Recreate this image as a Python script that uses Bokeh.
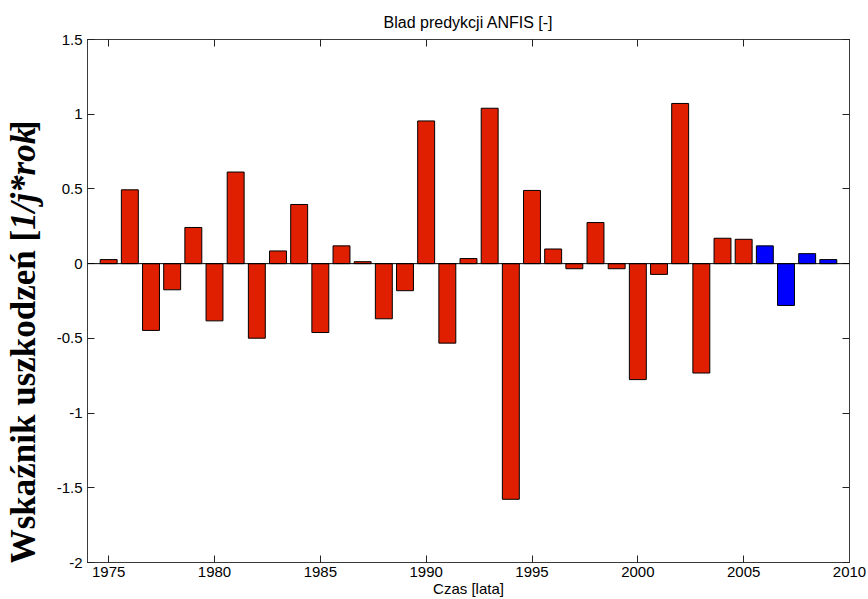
import math
from bokeh.plotting import figure
from bokeh.layouts import row
from bokeh.models import Range1d, FixedTicker, Span, ColumnDataSource, LinearAxis
from bokeh.core.properties import value
from bokeh.embed import file_html
from bokeh.resources import INLINE

years = list(range(1975, 2010))
values = [0.027, 0.494, -0.447, -0.175, 0.242, -0.383, 0.613, -0.499, 0.085, 0.396,
          -0.461, 0.119, 0.013, -0.369, -0.181, 0.955, -0.532, 0.034, 1.040, -1.577,
          0.490, 0.098, -0.034, 0.275, -0.034, -0.776, -0.072, 1.072, -0.732, 0.170,
          0.163, 0.119, -0.280, 0.067, 0.027]
forecast_start = 2006
x_ticks = [1975, 1980, 1985, 1990, 1995, 2000, 2005, 2010]
y_ticks = [-2, -1.5, -1, -0.5, 0, 0.5, 1, 1.5]
y_tick_labels = ["-2", "-1.5", "-1", "-0.5", "0", "0.5", "1", "1.5"]

title_text = "Blad predykcji ANFIS [-]"
x_label = "Czas [lata]"
y_label_parts = ["Wskaźnik uszkodzeń [", "1/j*rok", "]"]
y_label_styles = ["bold", "bold italic", "bold"]

X0, X1 = 1974, 2010
Y0, Y1 = -2, 1.5

RED = "#E01E00"
BLUE = "#0000FF"
AX = "#3a3a3a"
TICK = "#222222"
SANS = "Liberation Sans"
colors = [BLUE if y >= forecast_start else RED for y in years]
src = ColumnDataSource(dict(year=years, value=values, color=colors))

H = 599
LEFT_W = 50

# ---- left strip carrying the rotated y-axis label -----------------------
pl = figure(width=LEFT_W, height=H, x_range=Range1d(0, LEFT_W), y_range=Range1d(0, H),
            x_axis_type=None, y_axis_type=None, min_border=0,
            output_backend="svg", toolbar_location=None)
pl.grid.visible = False
pl.outline_line_color = None
pl.background_fill_color = "white"
pl.border_fill_color = "white"
yl_x = 23
yl_split = H - 218
yl_end = H - 106
ysrc = ColumnDataSource(dict(
    x=[yl_x] * 3,
    y=[yl_split, yl_split, yl_end],
    text=y_label_parts,
    style=y_label_styles,
    align=["right", "left", "left"],
))
pl.text(x="x", y="y", text="text", source=ysrc, angle=math.pi / 2,
        text_align="align", text_baseline="middle", text_font=value("Liberation Serif"),
        text_font_size="35px", text_font_style="style", text_color="black")

# ---- main chart ----------------------------------------------------------
p = figure(width=868 - LEFT_W, height=H, x_range=Range1d(X0, X1), y_range=Range1d(Y0, Y1),
           output_backend="svg", toolbar_location=None,
           min_border_left=87 - LEFT_W, min_border_right=19, min_border_top=39,
           min_border_bottom=37)
p.background_fill_color = "white"
p.border_fill_color = "white"
p.grid.visible = False
p.outline_line_color = AX
p.outline_line_width = 1

p.vbar(x="year", top="value", bottom=0, width=0.8, fill_color="color",
       line_color="black", line_width=1, source=src)
p.add_layout(Span(location=0, dimension="width", line_color="black", line_width=1))

def style_axis(ax, ticks):
    ax.ticker = FixedTicker(ticks=ticks)
    ax.minor_tick_line_color = None
    ax.major_tick_in = 7
    ax.major_tick_out = 0
    ax.axis_line_color = AX
    ax.major_tick_line_color = TICK
    ax.major_label_text_font = SANS
    ax.major_label_text_font_size = "15px"
    ax.major_label_text_color = "black"
    ax.axis_label_text_font = SANS
    ax.axis_label_text_font_style = "normal"
    ax.axis_label_text_color = "black"

style_axis(p.xaxis[0], x_ticks)
p.xaxis[0].major_label_standoff = 4
p.xaxis[0].axis_label = x_label
p.xaxis[0].axis_label_text_font_size = "15px"
p.xaxis[0].axis_label_standoff = 0

style_axis(p.yaxis[0], y_ticks)
p.yaxis[0].major_label_standoff = 5
p.yaxis[0].major_label_overrides = {t: s for t, s in zip(y_ticks, y_tick_labels)}

# frame box ticks on top (carrying the title) and right
top_ax = LinearAxis()
style_axis(top_ax, x_ticks)
top_ax.major_label_overrides = {t: "" for t in x_ticks}
top_ax.major_label_text_font_size = "1px"
top_ax.major_label_standoff = 0
top_ax.axis_label = title_text
top_ax.axis_label_text_font_size = "16px"
top_ax.axis_label_standoff = 9
p.add_layout(top_ax, "above")

right_ax = LinearAxis()
style_axis(right_ax, y_ticks)
right_ax.major_label_overrides = {t: "" for t in y_ticks}
right_ax.major_label_text_font_size = "1px"
right_ax.major_label_standoff = 0
p.add_layout(right_ax, "right")

layout = row(pl, p, spacing=0)
open("out.html", "w").write(file_html(layout, INLINE))
